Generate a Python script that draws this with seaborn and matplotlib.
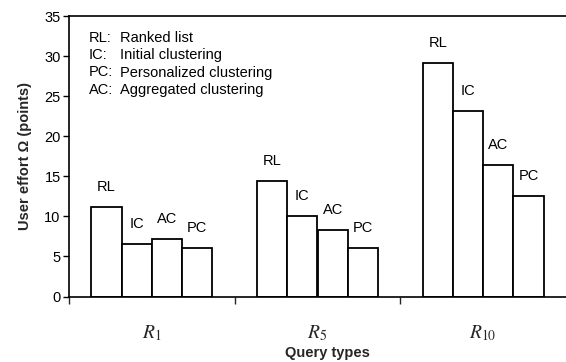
import matplotlib
matplotlib.use("Agg")
import matplotlib.pyplot as plt
import seaborn as sns
import pandas as pd

query_types = ["R1", "R5", "R10"]
query_labels = [r"$R_{1}$", r"$R_{5}$", r"$R_{10}$"]
methods = ["RL", "IC", "AC", "PC"]
effort_R1 = [11.2, 6.6, 7.2, 6.1]
effort_R5 = [14.4, 10.0, 8.3, 6.1]
effort_R10 = [29.1, 23.2, 16.4, 12.5]
legend_keys = ["RL:", "IC:", "PC:", "AC:"]
legend_names = ["Ranked list", "Initial clustering", "Personalized clustering", "Aggregated clustering"]

rows = []
for q, vals in zip(query_types, [effort_R1, effort_R5, effort_R10]):
    for m, v in zip(methods, vals):
        rows.append({"query": q, "method": m, "effort": v})
df = pd.DataFrame(rows)

sns.set_theme(style="white")
plt.rcParams["font.family"] = ["Liberation Sans", "DejaVu Sans"]
plt.rcParams["mathtext.fontset"] = "stix"

fig = plt.figure(figsize=(5.66, 3.62), dpi=100)
ax = fig.add_axes([69 / 566, 65.5 / 362, 497 / 566, 280.5 / 362])

sns.barplot(data=df, x="query", y="effort", hue="method", hue_order=methods,
            order=query_types, palette=["white"] * 4, edgecolor="black",
            linewidth=1.3, width=0.73, legend=False, ax=ax, saturation=1)

# labels above bars
for container, m in zip(ax.containers, methods):
    for bar in container:
        ax.annotate(m, (bar.get_x() + bar.get_width() / 2, bar.get_height()),
                    xytext=(0, 20), textcoords="offset pixels",
                    ha="center", va="center", fontsize=10.5, color="black")

ax.set_xlim(-0.5, 2.5)
ax.set_ylim(0, 35)
ax.set_yticks(range(0, 36, 5))
ax.tick_params(axis="y", direction="out", length=4, width=1, labelsize=10.5,
               left=True, pad=2, colors="black")

ax.set_xticks([-0.5, 0.5, 1.5])
ax.set_xticklabels([])
ax.set_xticks([0, 1, 2], minor=True)
ax.set_xticklabels(query_labels, minor=True, fontsize=14)
ax.tick_params(axis="x", which="major", direction="out", length=5, width=1, bottom=True)
ax.tick_params(axis="x", which="minor", length=0, pad=19, bottom=True)

for s in ["left", "bottom", "top"]:
    ax.spines[s].set_visible(True)
    ax.spines[s].set_color("black")
    ax.spines[s].set_linewidth(1.2)
ax.spines["right"].set_visible(False)

ax.set_ylabel("User effort Ω (points)", fontsize=10.5, fontweight="bold")
ax.yaxis.set_label_coords(-0.075, 0.5)
ax.set_xlabel("Query types", fontsize=10.5, fontweight="bold")
ax.xaxis.set_label_coords(0.521, -0.175)

# legend text block
for i, (k, n) in enumerate(zip(legend_keys, legend_names)):
    y = 37.7 + i * 17.4
    fig.text(89 / 566, 1 - y / 362, k, ha="left", va="center", fontsize=10.5, color="black")
    fig.text(120 / 566, 1 - y / 362, n, ha="left", va="center", fontsize=10.5, color="black")

fig.savefig("out.png", dpi=100)
